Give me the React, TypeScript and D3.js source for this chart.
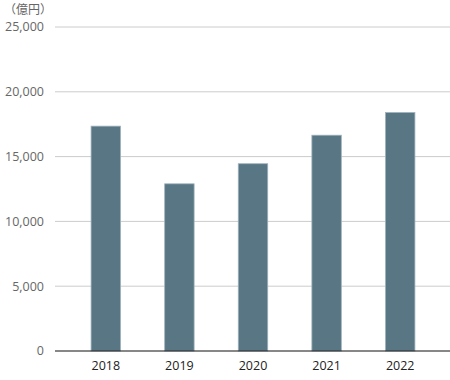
import React from "react";
import * as d3 from "d3";

const years = ["2018", "2019", "2020", "2021", "2022"];
const values = [17350, 12900, 14450, 16650, 18400];
const yTicks = [0, 5000, 10000, 15000, 20000, 25000];
const unitLabel = "（億円）";

export default function App() {
  const W = 450, H = 380;
  const left = 55, right = 450, top = 27, bottom = 351;
  const y = d3.scaleLinear().domain([0, 25000]).range([bottom, top]);
  const x = d3.scaleBand().domain(years).range([69, 437]).paddingInner(0.6).paddingOuter(0.3);
  const fmt = d3.format(",");
  const font = "'Open Sans', 'Noto Sans CJK JP', sans-serif";
  return (
    <svg width={W} height={H} style={{ position: "absolute", left: 0, top: 0 }} fontFamily={font}>
      <text x={4} y={14} fontSize={12} fill="#666">{unitLabel}</text>
      {yTicks.map((t) => (
        <g key={t}>
          {t > 0 && <line x1={left} x2={right} y1={y(t)} y2={y(t)} stroke="#cccccc" strokeWidth={1} />}
          <text x={44} y={y(t)} dy="0.35em" textAnchor="end" fontSize={12.5} fill="#666">{fmt(t)}</text>
        </g>
      ))}
      {years.map((yr, i) => (
        <rect key={yr} x={x(yr)} y={y(values[i])} width={x.bandwidth()} height={bottom - y(values[i])}
          fill="#587684" stroke="#9fb2bc" strokeWidth={0.8} />
      ))}
      <line x1={left} x2={right} y1={bottom} y2={bottom} stroke="#111" strokeWidth={1.2} />
      {years.map((yr) => (
        <text key={yr} x={(x(yr) as number) + x.bandwidth() / 2} y={370} textAnchor="middle" fontSize={12.5} fill="#222">{yr}</text>
      ))}
    </svg>
  );
}
